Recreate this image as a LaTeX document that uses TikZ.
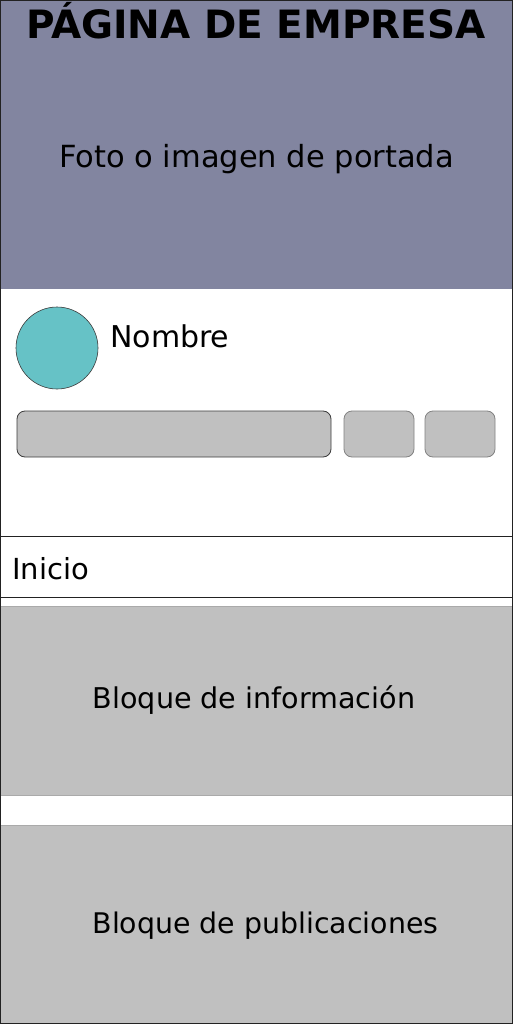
\documentclass[tikz,border=0pt]{standalone}
\usepackage{fontspec}
\setmainfont{DejaVu Sans}
\definecolor{cover}{RGB}{130,133,160}
\definecolor{avatar}{RGB}{102,194,198}
\definecolor{block}{RGB}{192,192,192}
\definecolor{frame}{RGB}{34,34,34}
\tikzset{
  txt/.style={inner sep=0pt, text=black},
  btn/.style={fill=block, rounded corners=8pt, line width=0.8pt},
  blockfill/.style={fill=block, draw={rgb,255:red,170;green,170;blue,170}, line width=0.6pt},
}
\begin{document}
\begin{tikzpicture}[x=1pt,y=-1pt]
\useasboundingbox (0,0) rectangle (513,1024);
\fill[white] (0,0) rectangle (513,1024);
% cover
\fill[cover] (0,0) rectangle (513,289);
\node[inner sep=0pt, font=\fontsize{39}{40}\selectfont\bfseries, anchor=base] (title) at (256,39) {PÁGINA DE EMPRESA};
\node[txt, font=\fontsize{30.5}{32}\selectfont, anchor=base] (foto) at (256.5,168) {Foto o imagen de portada};
% avatar
\node[circle, fill=avatar, draw={rgb,255:red,60;green,60;blue,60}, line width=0.6pt, minimum size=82pt, inner sep=0pt] (avatar) at (57,348) {};
\node[txt, font=\fontsize{30}{32}\selectfont, anchor=base west] (nombre) at (110,347) {Nombre};
% buttons
\path[btn, draw={rgb,255:red,60;green,60;blue,60}] (17,411) rectangle (331,457);
\path[btn, draw={rgb,255:red,130;green,130;blue,130}] (344,411) rectangle (414,457);
\path[btn, draw={rgb,255:red,130;green,130;blue,130}] (425,411) rectangle (495,457);
% tabs
\draw[frame, line width=0.8pt] (0,536) -- (513,536);
\node[txt, font=\fontsize{29}{31}\selectfont, anchor=base west] (inicio) at (12,579) {Inicio};
\draw[frame, line width=0.8pt] (0,597) -- (513,597);
% blocks
\path[blockfill] (0,606) rectangle (513,795);
\node[txt, font=\fontsize{28.6}{30}\selectfont, anchor=base] (info) at (254,708) {Bloque de información};
\path[blockfill] (0,825) rectangle (513,1024);
\node[txt, font=\fontsize{28.4}{30}\selectfont, anchor=base] (pub) at (265.5,933) {Bloque de publicaciones};
% frame
\draw[frame, line width=1.2pt] (0.6,0.6) rectangle (512.4,1023.4);
\end{tikzpicture}
\end{document}
